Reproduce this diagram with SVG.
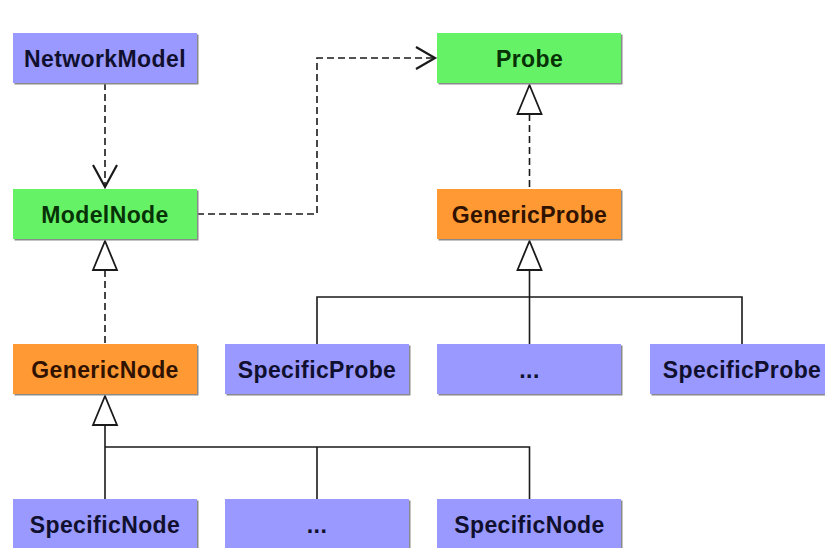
<svg xmlns="http://www.w3.org/2000/svg" width="825" height="548" viewBox="0 0 825 548">
  <style>
    .shadow { fill: #8a8a8a; }
    .blue { fill: #9999ff; }
    .green { fill: #66f266; }
    .orange { fill: #ff9933; }
    .label { font-family: "Liberation Sans", Arial, sans-serif; font-weight: bold; font-size: 23px; text-anchor: middle; letter-spacing: 0.4px; }
    .t-blue { fill: #10102e; }
    .t-green { fill: #063206; }
    .t-orange { fill: #301200; }
    .dash { fill: none; stroke: #1a1a1a; stroke-width: 1.6; stroke-dasharray: 7 4; }
    .solid { fill: none; stroke: #1a1a1a; stroke-width: 1.6; }
    .open { fill: none; stroke: #1a1a1a; stroke-width: 2.2; }
    .tri { fill: #ffffff; stroke: #1a1a1a; stroke-width: 1.8; stroke-linejoin: miter; }
  </style>
  <rect width="825" height="548" fill="#ffffff"/>

  <!-- connectors -->
  <g id="connectors">
    <!-- NetworkModel uses ModelNode -->
    <line class="dash" x1="105" y1="83" x2="105" y2="187"/>
    <polyline class="open" points="93,165 105,187 117,165"/>
    <!-- ModelNode uses Probe -->
    <polyline class="dash" points="197,214 317,214 317,58 434,58"/>
    <polyline class="open" points="416,47 435,58 416,69"/>
    <!-- GenericNode realizes ModelNode -->
    <line class="dash" x1="105" y1="270" x2="105" y2="344"/>
    <polygon class="tri" points="105,241 93,270 117,270"/>
    <!-- GenericProbe realizes Probe -->
    <line class="dash" x1="529.5" y1="114" x2="529.5" y2="189"/>
    <polygon class="tri" points="529.5,85 517.5,114 541.5,114"/>
    <!-- SpecificNode family extends GenericNode -->
    <polygon class="tri" points="105,396 93,425 117,425"/>
    <polyline class="solid" points="105,425 105,499"/>
    <polyline class="solid" points="105,447 529.5,447 529.5,499"/>
    <line class="solid" x1="317" y1="447" x2="317" y2="499"/>
    <!-- SpecificProbe family extends GenericProbe -->
    <polygon class="tri" points="529.5,241 517.5,270 541.5,270"/>
    <line class="solid" x1="529.5" y1="270" x2="529.5" y2="344"/>
    <polyline class="solid" points="317,344 317,297 742,297 742,344"/>
  </g>

  <!-- nodes -->
  <g id="NetworkModel">
    <rect class="shadow" x="14.5" y="34.5" width="184" height="50"/>
    <rect class="blue" x="13" y="33" width="184" height="50"/>
    <text class="label t-blue" x="105" y="66.5">NetworkModel</text>
  </g>
  <g id="Probe">
    <rect class="shadow" x="438.5" y="34.5" width="184" height="50"/>
    <rect class="green" x="437" y="33" width="184" height="50"/>
    <text class="label t-green" x="529.5" y="66.5">Probe</text>
  </g>
  <g id="ModelNode">
    <rect class="shadow" x="14.5" y="190.5" width="184" height="50"/>
    <rect class="green" x="13" y="189" width="184" height="50"/>
    <text class="label t-green" x="105" y="222.5">ModelNode</text>
  </g>
  <g id="GenericProbe">
    <rect class="shadow" x="438.5" y="190.5" width="184" height="50"/>
    <rect class="orange" x="437" y="189" width="184" height="50"/>
    <text class="label t-orange" x="529.5" y="222.5">GenericProbe</text>
  </g>
  <g id="GenericNode">
    <rect class="shadow" x="14.5" y="345.5" width="184" height="50"/>
    <rect class="orange" x="13" y="344" width="184" height="50"/>
    <text class="label t-orange" x="105" y="377.5">GenericNode</text>
  </g>
  <g id="SpecificProbe1">
    <rect class="shadow" x="226.5" y="345.5" width="184" height="50"/>
    <rect class="blue" x="225" y="344" width="184" height="50"/>
    <text class="label t-blue" x="317" y="377.5">SpecificProbe</text>
  </g>
  <g id="ProbeEllipsis">
    <rect class="shadow" x="438.5" y="345.5" width="184" height="50"/>
    <rect class="blue" x="437" y="344" width="184" height="50"/>
    <text class="label t-blue" x="529.5" y="377.5">...</text>
  </g>
  <g id="SpecificProbe2">
    <rect class="shadow" x="651.5" y="345.5" width="184" height="50"/>
    <rect class="blue" x="650" y="344" width="184" height="50"/>
    <text class="label t-blue" x="742" y="377.5">SpecificProbe</text>
  </g>
  <g id="SpecificNode1">
    <rect class="shadow" x="14.5" y="500.5" width="184" height="50"/>
    <rect class="blue" x="13" y="499" width="184" height="50"/>
    <text class="label t-blue" x="105" y="532.5">SpecificNode</text>
  </g>
  <g id="NodeEllipsis">
    <rect class="shadow" x="226.5" y="500.5" width="184" height="50"/>
    <rect class="blue" x="225" y="499" width="184" height="50"/>
    <text class="label t-blue" x="317" y="532.5">...</text>
  </g>
  <g id="SpecificNode2">
    <rect class="shadow" x="438.5" y="500.5" width="184" height="50"/>
    <rect class="blue" x="437" y="499" width="184" height="50"/>
    <text class="label t-blue" x="529.5" y="532.5">SpecificNode</text>
  </g>
</svg>
